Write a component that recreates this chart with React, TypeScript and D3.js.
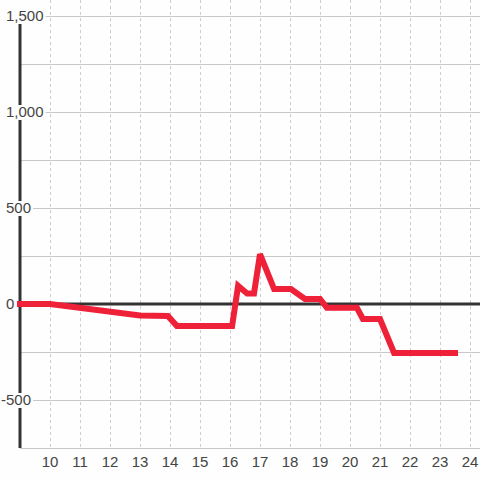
import React, { useEffect, useRef } from "react";
import * as d3 from "d3";

const hours = [9, 10, 13, 13.93, 14.23, 16.07, 16.27, 16.57, 16.8, 17, 17.47, 18.03, 18.5, 19, 19.23, 20.23, 20.43, 21, 21.47, 23.5];
const values = [0, 0, -60, -62, -115, -115, 95, 55, 55, 260, 78, 78, 26, 26, -20, -20, -78, -78, -255, -255];
const xTicks = [10, 11, 12, 13, 14, 15, 16, 17, 18, 19, 20, 21, 22, 23, 24];
const yGrid = [-750, -500, -250, 0, 250, 500, 750, 1000, 1250, 1500];
const yLabels = [-500, 0, 500, 1000, 1500];

const W = 480;
const H = 480;
const BG = "#fdfefd";

export default function App() {
  const ref = useRef<SVGSVGElement | null>(null);

  useEffect(() => {
    document.body.style.margin = "0";
    const svg = d3.select(ref.current);
    svg.selectAll("*").remove();

    const x = d3.scaleLinear().domain([9, 24 + 1 / 3]).range([20, 480]);
    const y = d3.scaleLinear().domain([-750, 1500]).range([448, 16]);

    svg.append("rect").attr("width", W).attr("height", H).attr("fill", BG);

    // vertical dashed grid
    svg
      .append("g")
      .selectAll("line")
      .data(xTicks)
      .join("line")
      .attr("x1", (d) => x(d))
      .attr("x2", (d) => x(d))
      .attr("y1", 0)
      .attr("y2", y(-750))
      .attr("stroke", "#cccccc")
      .attr("stroke-width", 1)
      .attr("stroke-dasharray", "3,3")
      .attr("shape-rendering", "crispEdges");

    // horizontal grid
    svg
      .append("g")
      .selectAll("line")
      .data(yGrid)
      .join("line")
      .attr("x1", x(9))
      .attr("x2", W)
      .attr("y1", (d) => y(d))
      .attr("y2", (d) => y(d))
      .attr("stroke", "#c8c8c8")
      .attr("stroke-width", 1)
      .attr("shape-rendering", "crispEdges");

    // y axis line
    svg
      .append("line")
      .attr("x1", x(9))
      .attr("x2", x(9))
      .attr("y1", y(1500))
      .attr("y2", y(-750))
      .attr("stroke", "#333333")
      .attr("stroke-width", 3);

    // zero line
    svg
      .append("line")
      .attr("x1", x(9))
      .attr("x2", W)
      .attr("y1", y(0))
      .attr("y2", y(0))
      .attr("stroke", "#333333")
      .attr("stroke-width", 3);

    // data line
    const pts: [number, number][] = hours.map((h, i) => [h, values[i]]);
    const line = d3
      .line<[number, number]>()
      .x((d) => x(d[0]))
      .y((d) => y(d[1]));
    svg
      .append("path")
      .attr("d", line(pts))
      .attr("fill", "none")
      .attr("stroke", "#ee2139")
      .attr("stroke-width", 6)
      .attr("stroke-linecap", "square")
      .attr("stroke-linejoin", "miter")
      .attr("stroke-miterlimit", 2.5);

    // y labels with background
    const fmt = d3.format(",");
    const gl = svg.append("g");
    yLabels.forEach((v) => {
      const g = gl.append("g");
      const rect = g.append("rect").attr("fill", BG);
      const t = g
        .append("text")
        .attr("x", 6)
        .attr("y", y(v))
        .attr("dy", "0.36em")
        .attr("font-family", "Liberation Sans, Arial, sans-serif")
        .attr("font-size", 15)
        .attr("fill", "#444444")
        .text(fmt(v).replace("\u2212", "-"));
      if (v < 0) t.attr("dx", -5);
      const bb = (t.node() as SVGTextElement).getBBox();
      rect
        .attr("x", bb.x - 1)
        .attr("y", y(v) - 7)
        .attr("width", bb.width + 3)
        .attr("height", 15);
    });

    // x labels
    svg
      .append("g")
      .selectAll("text")
      .data(xTicks)
      .join("text")
      .attr("x", (d) => x(d))
      .attr("y", 467)
      .attr("text-anchor", "middle")
      .attr("font-family", "Liberation Sans, Arial, sans-serif")
      .attr("font-size", 15)
      .attr("fill", "#444444")
      .text((d) => String(d));
  }, []);

  return <svg ref={ref} width={W} height={H} style={{ display: "block" }} />;
}
